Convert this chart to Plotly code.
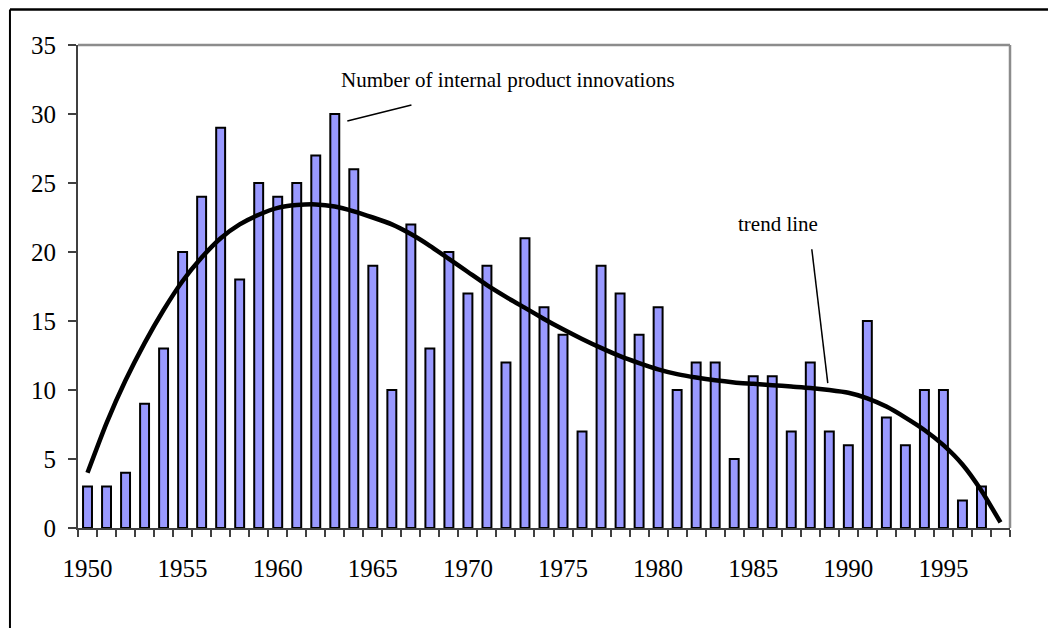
import plotly.graph_objects as go

years = list(range(1950, 1998))
innovations = [3, 3, 4, 9, 13, 20, 24, 29, 18, 25,
               24, 25, 27, 30, 26, 19, 10, 22, 13, 20,
               17, 19, 12, 21, 16, 14, 7, 19, 17, 14,
               16, 10, 12, 12, 5, 11, 11, 7, 12, 7,
               6, 15, 8, 6, 10, 10, 2, 3]

trend_years = list(range(1950, 1999))
trend_values = [4.0, 7.6, 10.7, 13.4, 15.8, 17.9, 19.6, 21.0, 22.0, 22.7,
                23.2, 23.4, 23.45, 23.3, 22.95, 22.5, 22.0, 21.3, 20.45, 19.5,
                18.55, 17.6, 16.75, 15.95, 15.15, 14.4, 13.7, 13.05, 12.45, 11.95,
                11.5, 11.15, 10.9, 10.7, 10.55, 10.45, 10.35, 10.25, 10.15, 10.0,
                9.8, 9.4, 8.8, 8.0, 7.1, 6.0, 4.6, 2.7, 0.4]

label_years = [1950, 1955, 1960, 1965, 1970, 1975, 1980, 1985, 1990, 1995]
boundaries = [y - 0.5 for y in range(1950, 2000)]

FONT = "Liberation Serif, Times New Roman, serif"

fig = go.Figure()
fig.add_trace(go.Bar(
    x=years, y=innovations, width=0.47,
    marker=dict(color="#9999FF", line=dict(color="black", width=2)),
    showlegend=False, hoverinfo="x+y",
))
fig.add_trace(go.Scatter(
    x=trend_years, y=trend_values, mode="lines",
    line=dict(color="black", width=4.5, shape="spline", smoothing=0.6),
    showlegend=False,
))

fig.update_layout(
    width=1048, height=620, autosize=False,
    margin=dict(l=70, r=46, t=37, b=100),
    paper_bgcolor="white", plot_bgcolor="white",
    font=dict(family=FONT, size=25, color="black"),
    xaxis=dict(
        range=[1949.5, 1998.5], tickmode="array", tickvals=label_years,
        ticktext=[str(y) for y in label_years],
        ticks="outside", ticklen=17, tickcolor="rgba(0,0,0,0)",
        showgrid=False, zeroline=False,
        showline=True, linecolor="#404040", linewidth=2,
        minor=dict(tickmode="array", tickvals=boundaries, ticks="outside",
                   ticklen=7, tickcolor="#404040", tickwidth=1.5, showgrid=False),
        tickfont=dict(family=FONT, size=25),
    ),
    yaxis=dict(
        range=[0, 35], tickmode="linear", tick0=0, dtick=5,
        ticks="outside", ticklen=8, tickcolor="#404040", tickwidth=1.5,
        ticklabelstandoff=7,
        showgrid=False, zeroline=False,
        showline=True, linecolor="#404040", linewidth=2,
        tickfont=dict(family=FONT, size=25),
    ),
    bargap=0.5,
)

# plot-area top and right border (grey)
fig.add_shape(type="line", xref="paper", yref="paper", x0=0, x1=1, y0=1, y1=1,
              line=dict(color="#8c8c8c", width=2.5))
fig.add_shape(type="line", xref="paper", yref="paper", x0=1, x1=1, y0=0, y1=1,
              line=dict(color="#8c8c8c", width=2.5))

# outer frame (top and left)
fig.add_shape(type="line", xref="paper", yref="paper", x0=-0.073, x1=1.07, y0=1.0735, y1=1.0735,
              line=dict(color="black", width=2.5))
fig.add_shape(type="line", xref="paper", yref="paper", x0=-0.073, x1=-0.073, y0=1.0735, y1=-0.25,
              line=dict(color="black", width=2))

# pointer lines
fig.add_shape(type="line", xref="x", yref="y", x0=1963.66, y0=29.5, x1=1967.03, y1=30.65,
              line=dict(color="black", width=1.5))
fig.add_shape(type="line", xref="x", yref="y", x0=1988.08, y0=20.2, x1=1988.92, y1=10.5,
              line=dict(color="black", width=1.5))

fig.add_annotation(x=1972.1, y=32.5, xref="x", yref="y", text="Number of internal product innovations",
                   showarrow=False, font=dict(family=FONT, size=21, color="black"))
fig.add_annotation(x=1986.3, y=22.0, xref="x", yref="y", text="trend line",
                   showarrow=False, font=dict(family=FONT, size=21, color="black"))

fig.write_html("out.html")
